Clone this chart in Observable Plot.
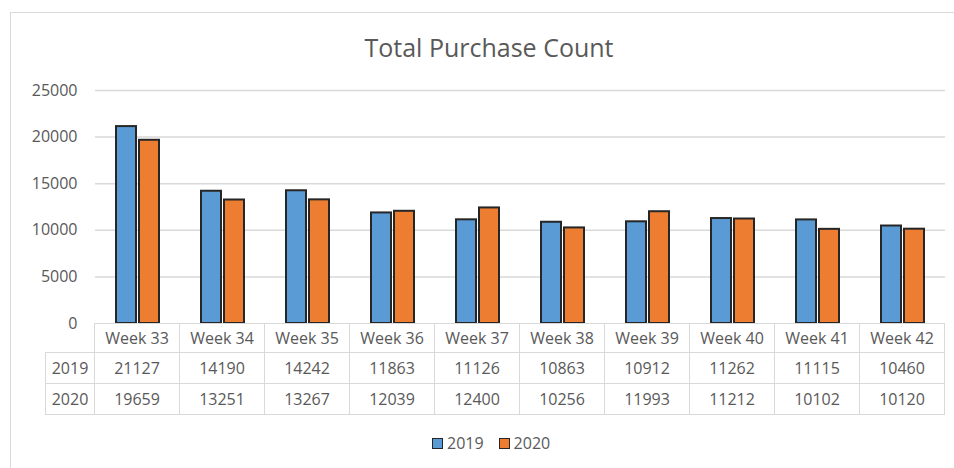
<!DOCTYPE html>
<html><head><meta charset="utf-8">
<script src="https://cdn.jsdelivr.net/npm/d3@7"></script>
<script src="https://cdn.jsdelivr.net/npm/@observablehq/plot@0.6"></script>
<style>
html,body{margin:0;padding:0;background:#fff;overflow:hidden}
#root{position:relative;width:954px;height:468px;overflow:hidden;font-family:"Open Sans",sans-serif;color:#595959;background:#fff}
#border{position:absolute;left:10px;top:12px;width:1000px;height:1000px;border:1px solid #d9d9d9;box-sizing:border-box}
#title{position:absolute;left:189px;width:600px;top:30px;text-align:center;font-size:25px;line-height:34px}
#chart{position:absolute;left:0;top:0}
#tbl{position:absolute;border-collapse:collapse;table-layout:fixed;font-size:16px;color:#595959}
#tbl td{border:1.5px solid #d9d9d9;padding:0;text-align:center;white-space:nowrap}
#legend{position:absolute;left:432px;top:433px;display:flex;align-items:center;font-size:16px;line-height:20px}
.sw{width:9px;height:9px;border:1px solid #262626;display:inline-block}
</style>
</head><body>
<div id="root">
  <div id="border"></div>
  <div id="title">Total Purchase Count</div>
  <div id="chart"></div>
  <div id="legend"></div>
</div>
<script>
const weeks = ["Week 33","Week 34","Week 35","Week 36","Week 37","Week 38","Week 39","Week 40","Week 41","Week 42"];
const years = ["2019","2020"];
const values2019 = [21127,14190,14242,11863,11126,10863,10912,11262,11115,10460];
const values2020 = [19659,13251,13267,12039,12400,10256,11993,11212,10102,10120];
const yTicks = [0,5000,10000,15000,20000,25000];
const colors = ["#5B9BD5","#ED7D31"];

const data = weeks.flatMap((w,i)=>[
  {week:w, year:years[0], value:values2019[i]},
  {week:w, year:years[1], value:values2020[i]}
]);

const plot = Plot.plot({
  width:954, height:324,
  marginTop:90, marginBottom:1, marginLeft:94, marginRight:9,
  style:{fontFamily:"Open Sans", fontSize:"16px", color:"#595959", background:"transparent", overflow:"visible"},
  fx:{domain:weeks, padding:0, axis:null},
  x:{domain:years, paddingInner:0.15, paddingOuter:0.85, axis:null},
  y:{domain:[0,25000], ticks:yTicks, tickSize:0, tickPadding:18, tickFormat:d3.format("d"), label:null},
  color:{domain:years, range:colors},
  marks:[
    Plot.gridY(yTicks.filter(d=>d>0), {stroke:"#d9d9d9", strokeOpacity:1, strokeWidth:1.5}),
    Plot.barY(data, {fx:"week", x:"year", y:"value", fill:"year", stroke:"#262626", strokeWidth:2})
  ]
});
document.getElementById("chart").appendChild(plot);

// Data table aligned with the fx band scale
const fx = plot.scale("fx");
const colW = fx.step;
const labelW = 49;
const table = document.createElement("table");
table.id = "tbl";
table.style.left = (fx.range[0] - labelW) + "px";
table.style.top = "323px";
table.style.width = (labelW + colW*weeks.length) + "px";
const cg = document.createElement("colgroup");
[labelW, ...weeks.map(()=>colW)].forEach(w=>{const c=document.createElement("col");c.style.width=w+"px";cg.appendChild(c);});
table.appendChild(cg);
function row(label, cells, h){
  const tr = document.createElement("tr");
  const th = document.createElement("td");
  th.textContent = label;
  th.style.height = h+"px";
  if(label===""){th.style.borderTop="none";th.style.borderLeft="none";}
  tr.appendChild(th);
  cells.forEach(v=>{const td=document.createElement("td");td.textContent=v;tr.appendChild(td);});
  table.appendChild(tr);
}
row("", weeks, 28);
row(years[0], values2019, 30);
row(years[1], values2020, 30);
document.getElementById("root").appendChild(table);

// Legend
const lg = document.getElementById("legend");
years.forEach((y,i)=>{
  const s=document.createElement("span");s.className="sw";s.style.background=colors[i];
  if(i>0) s.style.marginLeft="15px";
  const t=document.createElement("span");t.textContent=y;t.style.marginLeft="4px";
  lg.appendChild(s);lg.appendChild(t);
});
</script>
</body></html>
